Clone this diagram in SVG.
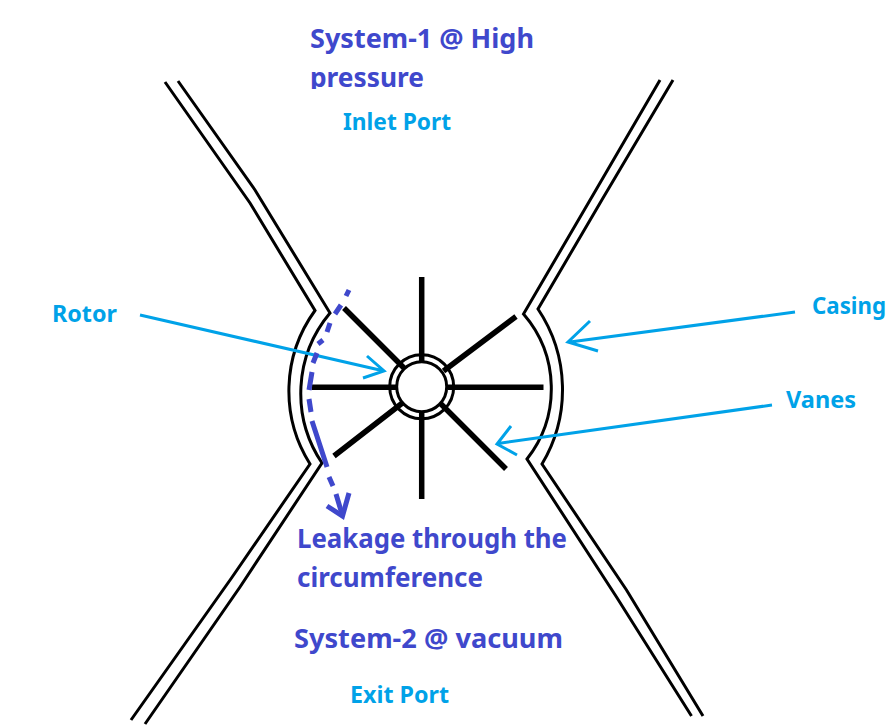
<svg xmlns="http://www.w3.org/2000/svg" width="891" height="725" viewBox="0 0 891 725">
<style>
.wall{fill:none;stroke:#000;stroke-width:3;stroke-linejoin:miter}
.spoke{fill:none;stroke:#000;stroke-width:5.500}
.cy{fill:none;stroke:#00a2e8;stroke-width:3}
.dash{fill:none;stroke:#3f48cc;stroke-width:5}
text{font-family:"Noto Sans","Liberation Sans",sans-serif;font-weight:700}
.big{font-size:27px;fill:#3f48cc}
.small{font-size:24px;fill:#00a2e8}
</style>
<defs><clipPath id="c"><rect x="300" y="60" width="200" height="29"/></clipPath></defs>
<rect width="891" height="725" fill="#fff"/>
<g id="casing">
<path class="wall" d="M165 82L250 203L315 310.500A137 137 0 0 0 310 464L231.500 578L131 720"/>
<path class="wall" d="M178 81L255 190L330 313A125 125 0 0 0 322 463L240 587L145 724"/>
<path class="wall" d="M660 80L593 195L523.500 314A114 114 0 0 1 527 459L616.500 597L691.500 716"/>
<path class="wall" d="M673 80L603 198L538 309A145 145 0 0 1 542 464L626.500 590L703 716"/>
</g>
<g id="rotor">
<circle cx="421.700" cy="386.700" r="25" fill="none" stroke="#000" stroke-width="3"/>
<circle cx="421.700" cy="386.700" r="32" fill="none" stroke="#000" stroke-width="3"/>
<path class="spoke" d="M421.700 277V361M421.700 411V499M311.500 387.300H397M448 387.300H543.500M344 308L405 369M516 316.500L443.500 371M334 456L403 402.500M506 469L440 403"/>
</g>
<g id="connectors">
<path class="cy" d="M140 315L384 371M367 356L384 371L363 378"/>
<path class="cy" d="M795 312L570 342M590 321L568 342L598 351"/>
<path class="cy" d="M772 405L498 443.500M511 426L497 444L517 455"/>
<path class="dash" d="M349 290L346 296M341 305L335 314M330 323L327 332M323 340L318 344M317 353L313 363M312 372L309 390M309 399L311 412M312 421L327 467M329 477L333 486M336 494L342 514"/>
<path d="M327 506L342.500 516L349 493" fill="none" stroke="#3f48cc" stroke-width="5"/>
</g>
<g id="labels">
<text class="big" x="310" y="48" textLength="224" lengthAdjust="spacingAndGlyphs">System-1 @ High</text>
<text class="big" x="310" y="87" textLength="114" lengthAdjust="spacingAndGlyphs" clip-path="url(#c)">pressure</text>
<text class="small" x="343" y="130" textLength="108" lengthAdjust="spacingAndGlyphs">Inlet Port</text>
<text class="small" x="52" y="322" textLength="65" lengthAdjust="spacingAndGlyphs">Rotor</text>
<text class="small" x="812" y="314" textLength="74" lengthAdjust="spacingAndGlyphs">Casing</text>
<text class="small" x="786" y="408" textLength="70" lengthAdjust="spacingAndGlyphs">Vanes</text>
<text class="big" x="297" y="548" textLength="270" lengthAdjust="spacingAndGlyphs">Leakage through the</text>
<text class="big" x="297" y="587" textLength="186" lengthAdjust="spacingAndGlyphs">circumference</text>
<text class="big" x="294" y="648" textLength="269" lengthAdjust="spacingAndGlyphs">System-2 @ vacuum</text>
<text class="small" x="350" y="703" textLength="99" lengthAdjust="spacingAndGlyphs">Exit Port</text>
</g>
</svg>
